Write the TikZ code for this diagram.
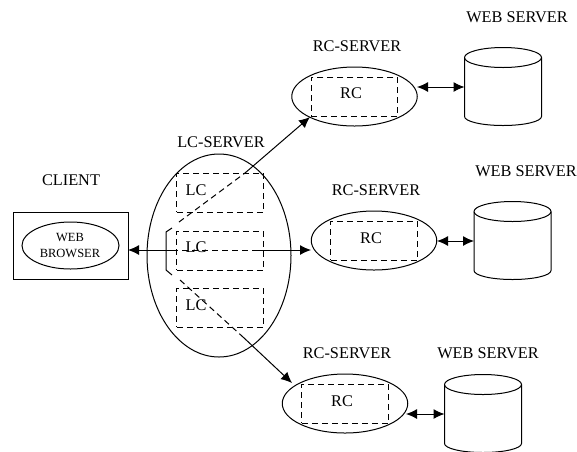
\documentclass[tikz,border=0pt]{standalone}
\usepackage{fontspec}
\setmainfont{Liberation Serif}
\usetikzlibrary{arrows.meta,shapes.geometric}
\tikzset{
    label text/.style={inner sep=0pt, font=\fontsize{16.3}{18}\selectfont},
    small text/.style={inner sep=0pt, font=\fontsize{12.5}{14}\selectfont},
    server/.style={draw, ellipse, inner sep=0pt, minimum width=125.5pt, minimum height=59pt},
    dash box/.style={draw, rectangle, dashed, dash pattern=on 6pt off 4pt, inner sep=0pt, minimum width=86.5pt, minimum height=39pt},
    disk/.style={rectangle, inner sep=0pt, minimum width=77pt, minimum height=78pt},
    tip/.style={-{Latex[length=11pt,width=10pt]}},
    two tip/.style={{Latex[length=11pt,width=10pt]}-{Latex[length=11pt,width=10pt]}},
    dash line/.style={dashed, dash pattern=on 6pt off 4pt},
}
\newcommand{\drawdisk}[1]{
    \draw (#1.north west) ++(0, 10) arc [start angle=180, end angle=-180, x radius=38.5, y radius=10];
    \draw (#1.north west) ++(0, 10) -- ++(0, 59) arc [start angle=180, end angle=0, x radius=38.5, y radius=9] -- ++(0, -59);
}
\begin{document}
\begin{tikzpicture}[x=1pt, y=-1pt, line width=1pt]
        \useasboundingbox (0, 0) rectangle (577, 451);
        %draw client
        \node[draw, rectangle, inner sep=0pt, minimum width=115pt, minimum height=67pt] (client) at (70.5, 245.5) {};
        \node[draw, ellipse, inner sep=0pt, minimum width=97pt, minimum height=47pt] (browser) at (70.5, 245.5) {};
        \node[small text] (webword) at (70, 237) {WEB};
        \node[small text] (browserword) at (70, 253) {BROWSER};
        \node[label text] (clientlabel) at (71, 180) {CLIENT};
        %draw LC server and its boxes
        \node[draw, ellipse, inner sep=0pt, minimum width=144pt, minimum height=203pt] (lcserver) at (219, 255.5) {};
        \node[label text] (lclabel) at (221, 142) {LC-SERVER};
        \node[dash box] (lcone) at (220, 192.5) {};
        \node[dash box] (lctwo) at (220, 250.5) {};
        \node[dash box] (lcthree) at (220, 307.5) {};
        \node[label text] (lcnameone) at (196, 190) {LC};
        \node[label text] (lcnametwo) at (196, 247) {LC};
        \node[label text] (lcnamethree) at (196, 305) {LC};
        %draw RC servers
        \node[server] (rcone) at (354.5, 96.5) {};
        \node[server] (rctwo) at (374, 240.5) {};
        \node[server] (rcthree) at (345, 403.5) {};
        \node[dash box] (rcboxone) at (354.5, 96.5) {};
        \node[dash box] (rcboxtwo) at (374, 240.5) {};
        \node[dash box] (rcboxthree) at (345, 403.5) {};
        \node[label text] (rcnameone) at (351, 93) {RC};
        \node[label text] (rcnametwo) at (371, 238) {RC};
        \node[label text] (rcnamethree) at (342, 401) {RC};
        \node[label text] (rclabelone) at (357, 46) {RC-SERVER};
        \node[label text] (rclabeltwo) at (376, 190) {RC-SERVER};
        \node[label text] (rclabelthree) at (347, 353) {RC-SERVER};
        %draw web servers
        \node[disk] (webone) at (503.5, 87) {};
        \node[disk] (webtwo) at (513, 241) {};
        \node[disk] (webthree) at (483.5, 414) {};
        \drawdisk{webone}
        \drawdisk{webtwo}
        \drawdisk{webthree}
        \node[label text] (weblabelone) at (517, 17) {WEB SERVER};
        \node[label text] (weblabeltwo) at (526, 171) {WEB SERVER};
        \node[label text] (weblabelthree) at (488, 353) {WEB SERVER};
        %draw double arrows
        \coordinate (rightone) at (417, 87);
        \coordinate (righttwo) at (437, 241);
        \coordinate (rightthree) at (406, 414);
        \draw[two tip] (rightone) -- (webone.west |- rightone);
        \draw[two tip] (righttwo) -- (webtwo.west |- righttwo);
        \draw[two tip] (rightthree) -- (webthree.west |- rightthree);
        %draw bracket inside LC server
        \coordinate (brtop) at (172, 228);
        \coordinate (brupper) at (166, 232);
        \coordinate (brlower) at (166, 270);
        \coordinate (brbottom) at (172, 275);
        \coordinate (brmid) at (166, 250);
        \draw (brtop) -- (brupper) -- (brlower) -- (brbottom);
        \draw[tip] (brmid) -- (128, 250) coordinate (clientend);
        \draw (brmid) -- (172, 250) coordinate (midstart);
        %draw lines to the RC servers
        \coordinate (upstart) at (179, 222);
        \coordinate (upturn) at (245, 173);
        \coordinate (upend) at (310, 117);
        \coordinate (midturn) at (257, 250);
        \coordinate (midend) at (311, 250);
        \coordinate (lowstart) at (180, 280);
        \coordinate (lowturn) at (243, 337);
        \coordinate (lowend) at (292, 383);
        \draw[dash line] (upstart) -- (upturn);
        \draw[tip] (upturn) -- (upend);
        \draw[dash line] (midstart) -- (midturn);
        \draw[tip] (midturn) -- (midend);
        \draw[dash line] (lowstart) -- (lowturn);
        \draw[tip] (lowturn) -- (lowend);
    \end{tikzpicture}
\end{document}
